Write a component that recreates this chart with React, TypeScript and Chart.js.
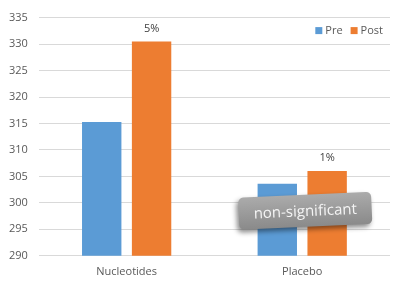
import React, { useEffect, useRef } from "react";
import { Chart, registerables } from "chart.js";

Chart.register(...registerables);

const categories = ["Nucleotides", "Placebo"];
const preValues = [315.3, 303.6];
const postValues = [330.5, 306.0];
const changeLabels = ["5%", "1%"];
const seriesNames = ["Pre", "Post"];
const yMin = 290;
const yMax = 335;
const yStep = 5;
const noteText = "non-significant";
const noteCategory = 1;
const noteValue = 298.5;

const FONT = "'Open Sans', 'Noto Sans', sans-serif";
const BLUE = "#5B9BD5";
const ORANGE = "#ED7D31";

const overlayPlugin = {
  id: "overlay",
  afterDatasetsDraw(chart: any) {
    const ctx = chart.ctx;
    const area = chart.chartArea;
    const xs = chart.scales.x;
    const ys = chart.scales.y;
    // value labels above Post bars
    const meta = chart.getDatasetMeta(1);
    ctx.save();
    ctx.font = `11px ${FONT}`;
    ctx.fillStyle = "#404040";
    ctx.textAlign = "center";
    ctx.textBaseline = "middle";
    meta.data.forEach((bar: any, i: number) => {
      ctx.fillText(changeLabels[i], bar.x, bar.y - 13);
    });
    ctx.restore();

    // legend
    ctx.save();
    ctx.font = `11px ${FONT}`;
    ctx.textBaseline = "middle";
    ctx.textAlign = "left";
    const colors = [BLUE, ORANGE];
    const box = 7;
    const gap = 3;
    const itemGap = 8;
    const widths = seriesNames.map((n) => box + gap + ctx.measureText(n).width);
    const total = widths.reduce((a, b) => a + b, 0) + itemGap * (seriesNames.length - 1);
    let lx = area.right - 7 - total;
    const ly = area.top + 13;
    seriesNames.forEach((n, i) => {
      ctx.fillStyle = colors[i];
      ctx.fillRect(lx, ly - box / 2, box, box);
      ctx.fillStyle = "#595959";
      ctx.fillText(n, lx + box + gap, ly);
      lx += widths[i] + itemGap;
    });
    ctx.restore();

    // annotation
    const cx = xs.getPixelForValue(noteCategory) + 3;
    const cy = ys.getPixelForValue(noteValue);
    const w = 133;
    const h = 32;
    const r = 5;
    ctx.save();
    ctx.translate(cx, cy);
    ctx.rotate((-2.6 * Math.PI) / 180);
    ctx.shadowColor = "rgba(0,0,0,0.45)";
    ctx.shadowBlur = 5;
    ctx.shadowOffsetX = -2;
    ctx.shadowOffsetY = 3;
    const g = ctx.createLinearGradient(0, -h / 2, 0, h / 2);
    g.addColorStop(0, "#ababab");
    g.addColorStop(1, "#8a8a8a");
    ctx.fillStyle = g;
    ctx.beginPath();
    ctx.roundRect(-w / 2, -h / 2, w, h, r);
    ctx.fill();
    ctx.shadowColor = "transparent";
    ctx.font = `15px ${FONT}`;
    ctx.fillStyle = "#f4f4f4";
    ctx.textAlign = "center";
    ctx.textBaseline = "middle";
    ctx.fillText(noteText, 0, 1);
    ctx.restore();
  },
};

export default function App() {
  const ref = useRef<HTMLCanvasElement>(null);
  useEffect(() => {
    document.body.style.margin = "0";
    const chart = new Chart(ref.current as HTMLCanvasElement, {
      type: "bar",
      data: {
        labels: categories,
        datasets: [
          { label: seriesNames[0], data: preValues, backgroundColor: BLUE },
          { label: seriesNames[1], data: postValues, backgroundColor: ORANGE },
        ],
      },
      options: {
        animation: false,
        responsive: false,
        maintainAspectRatio: false,
        layout: { padding: { top: 4, right: 14, left: -2, bottom: 2 } },
        datasets: {
          bar: { categoryPercentage: 0.568, barPercentage: 0.79 },
        },
        plugins: {
          legend: { display: false },
          tooltip: { enabled: false },
        },
        scales: {
          x: {
            grid: { display: false, drawTicks: false },
            border: { display: false },
            ticks: { color: "#595959", font: { family: FONT, size: 11 }, padding: 9 },
          },
          y: {
            min: yMin,
            max: yMax,
            ticks: {
              stepSize: yStep,
              color: "#595959",
              font: { family: FONT, size: 11 },
              padding: 11,
            },
            grid: { color: "#d9d9d9", drawTicks: false },
            border: { display: false },
          },
        },
      },
      plugins: [overlayPlugin],
    });
    return () => chart.destroy();
  }, []);
  return (
    <div style={{ position: "absolute", left: 0, top: 0, width: 404, height: 289, background: "#fff" }}>
      <canvas ref={ref} width={404} height={289} style={{ width: 404, height: 289 }} />
    </div>
  );
}
